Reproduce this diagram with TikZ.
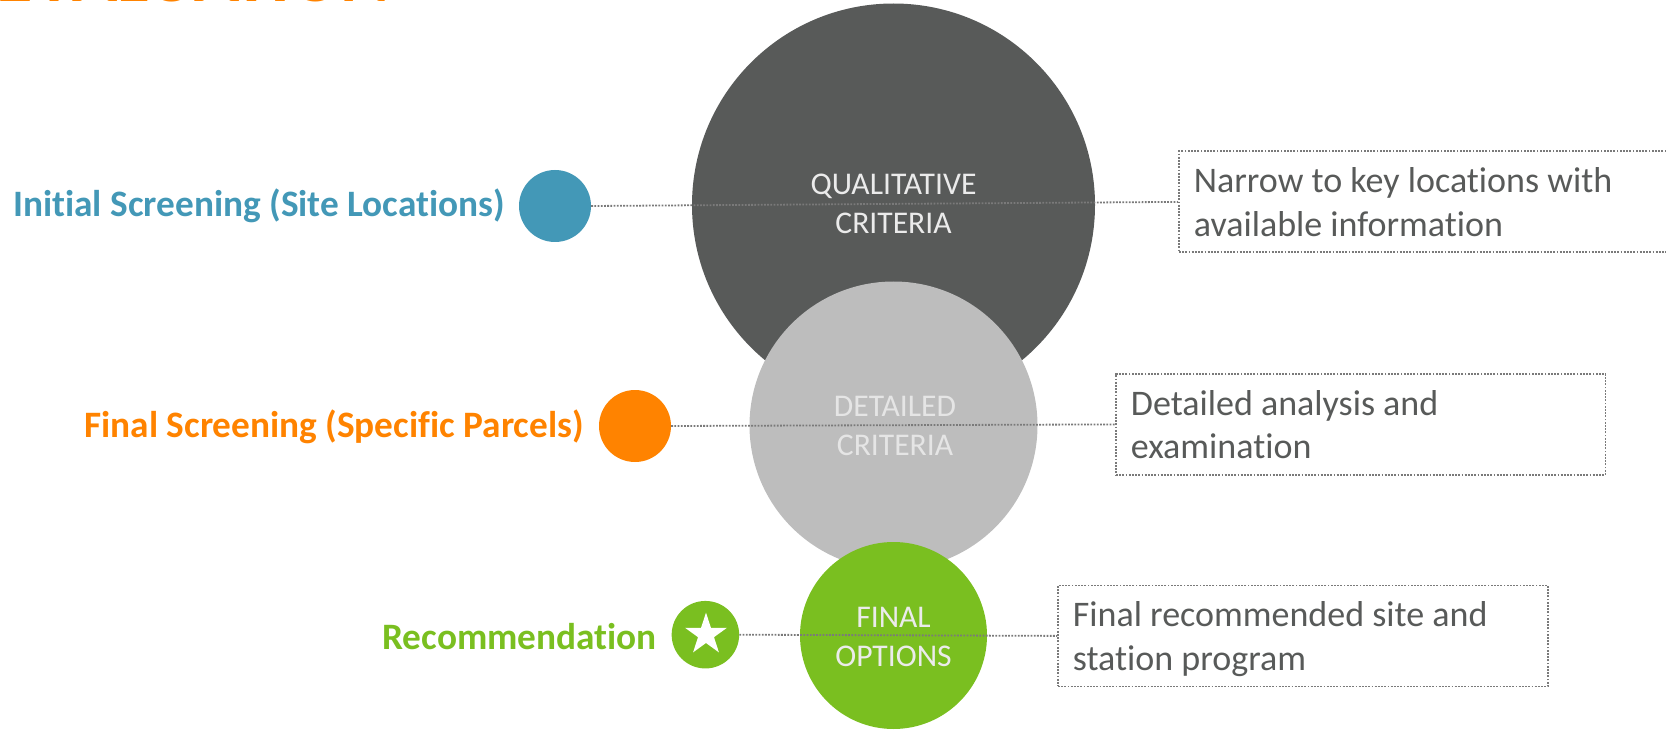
\documentclass[tikz,border=0pt]{standalone}
\usepackage{fontspec}
\setmainfont[Ligatures=NoCommon]{Carlito}
\usetikzlibrary{shapes.geometric}
\definecolor{cdark}{HTML}{585A59}
\definecolor{cmid}{HTML}{BDBDBD}
\definecolor{cgreen}{HTML}{7ABF20}
\definecolor{cblue}{HTML}{4398B7}
\definecolor{corange}{HTML}{FF8300}
\definecolor{cdots}{HTML}{7A7A7A}
\newcommand{\tophold}{\rule{0pt}{35pt}}
\newcommand{\bothold}{\rule[-10pt]{0pt}{10pt}}
\tikzset{
 disc/.style={circle,inner sep=0pt,minimum size=#1,draw=none},
 link/.style={draw=cdots,line width=1.8pt,dash pattern=on 1.8pt off 1.4pt},
 infobox/.style n args={2}{draw=cdots,line width=1.8pt,dash pattern=on 1.8pt off 1.4pt,rectangle,inner xsep=15pt,inner ysep=0pt,
   minimum width=#1,minimum height=#2,text width=#1-30pt,text=cdark,font=\fontsize{36}{43.5}\selectfont,align=flush left,anchor=north west},
 circ/.style={text=#1,font=\fontsize{31.6}{39.5}\selectfont,align=center,inner sep=0pt},
 lab/.style={font=\bfseries\fontsize{37.3}{42}\selectfont,anchor=east,inner sep=0pt},
}
\begin{document}
\begin{tikzpicture}[x=1pt,y=-1pt]
\useasboundingbox (0,0) rectangle (1666,730);
\begin{scope}
\clip (0,0) rectangle (1666,2.5);
\node[anchor=base west,inner sep=0pt,text=corange,font=\bfseries\fontsize{74.5}{78}\selectfont] (title) at (-4,2) {EVALUATION};
\end{scope}
% large circles
\node[disc=403pt,fill=cdark] (big) at (893.5,205) {};
\node[disc=288pt,fill=cmid] (mid) at (893.5,425.5) {};
\node[disc=187pt,fill=cgreen] (small) at (893.5,635.5) {};
% small circles
\node[disc=72pt,fill=cblue] (d1) at (555,206) {};
\node[disc=72pt,fill=corange] (d2) at (635,426) {};
\node[disc=67.5pt,fill=cgreen] (d3) at (705.4,634.7) {};
\node[star,star points=5,star point ratio=2.618,fill=white,inner sep=0pt,minimum size=44pt] (st) at (706,634.6) {};
% text boxes
\node[infobox={502pt}{101pt}] (i1) at (1178,150.5) {\tophold Narrow to key locations with\\available information\bothold};
\node[infobox={489.5pt}{101pt}] (i2) at (1115,373) {\tophold Detailed analysis and\\examination\bothold};
\node[infobox={490pt}{101pt}] (i3) at (1057,584.5) {\tophold Final recommended site and\\station program\bothold};
% connectors
\draw[link] (d1.east) -- (i1.west);
\draw[link] (d2.east) -- (i2.west);
\draw[link] (d3.east) -- (i3.west);
% labels
\node[lab,text=cblue] (l1) at (505,206) {Initial Screening (Site Locations)};
\node[lab,text=corange] (l2) at (584,427) {Final Screening (Specific Parcels)};
\node[lab,text=cgreen] (l3) at (657,637) {Recommendation};
\node[circ=white!92!black] (t1) at (893.5,204) {QUALITATIVE\\CRITERIA};
\node[circ=white!90!black] (t2) at (895,426) {DETAILED\\CRITERIA};
\node[circ=white!92!black] (t3) at (893.5,637) {FINAL\\OPTIONS};
\end{tikzpicture}
\end{document}
